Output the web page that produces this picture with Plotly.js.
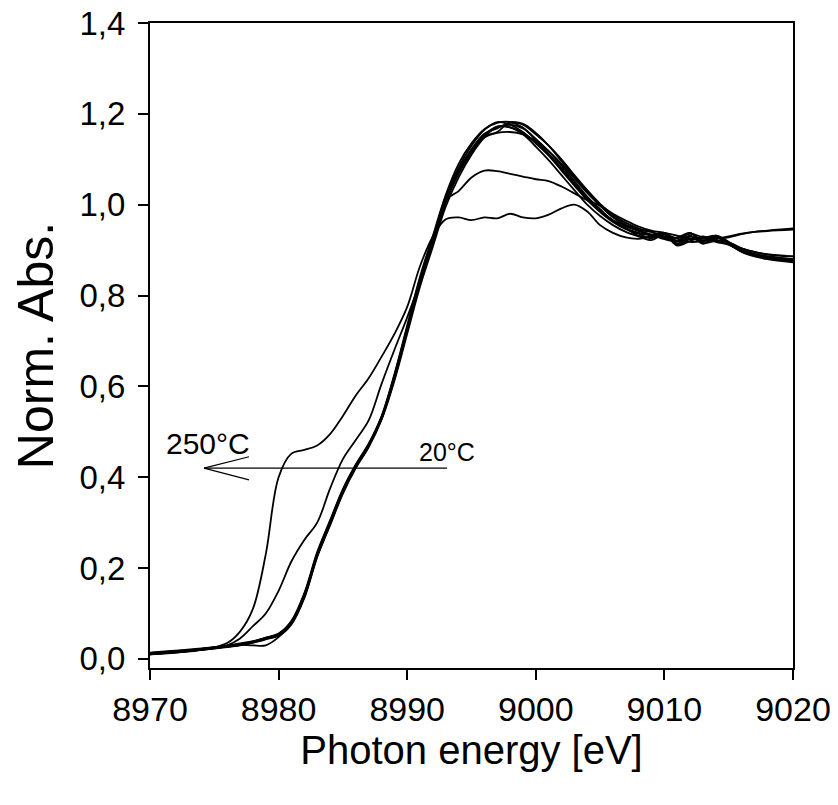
<!DOCTYPE html>
<html>
<head>
<meta charset="utf-8">
<script src="https://cdn.plot.ly/plotly-3.0.1.min.js"></script>
<style>html,body{margin:0;padding:0;background:#fff;}#chart{width:838px;height:805px;}</style>
</head>
<body>
<div id="chart"></div>
<script>
// Photon energy grid (eV)
const energy = [8970,8972,8974,8976,8977,8978,8979,8980,8981,8982,8983,8984,8985,8986,8987,8988,8989,8990,8991,8992,8993,8994,8995,8996,8997,8998,8999,9000,9001,9002,9003,9004,9005,9006,9007,9008,9009,9010,9011,9012,9013,9014,9015,9016,9017,9018,9020];

// 250°C spectrum
const s250 = [0.010,0.014,0.020,0.035,0.060,0.110,0.230,0.400,0.452,0.460,0.470,0.495,0.535,0.580,0.618,0.665,0.715,0.775,0.865,0.930,0.968,0.972,0.966,0.972,0.970,0.980,0.972,0.970,0.978,0.992,1.000,0.985,0.955,0.938,0.928,0.925,0.930,0.935,0.925,0.918,0.920,0.925,0.928,0.935,0.940,0.943,0.948];
// intermediate spectrum
const sMid = [0.012,0.015,0.020,0.030,0.045,0.072,0.100,0.150,0.215,0.262,0.300,0.375,0.440,0.482,0.525,0.605,0.680,0.752,0.830,0.920,1.010,1.030,1.060,1.075,1.074,1.068,1.062,1.056,1.052,1.040,1.025,1.010,0.998,0.980,0.965,0.952,0.943,0.938,0.932,0.925,0.922,0.925,0.930,0.936,0.940,0.942,0.945];
// low-temperature spectra (20°C ...)
const s1 = [0.010,0.015,0.020,0.026,0.030,0.036,0.044,0.052,0.078,0.138,0.228,0.298,0.368,0.424,0.470,0.532,0.624,0.730,0.836,0.926,1.016,1.082,1.130,1.165,1.182,1.176,1.160,1.135,1.108,1.075,1.042,1.010,0.984,0.962,0.946,0.936,0.926,0.936,0.914,0.930,0.920,0.928,0.914,0.898,0.890,0.885,0.878];
const s2 = [0.014,0.018,0.023,0.029,0.033,0.038,0.046,0.055,0.082,0.142,0.232,0.302,0.372,0.426,0.472,0.530,0.618,0.722,0.828,0.918,1.005,1.068,1.115,1.150,1.160,1.182,1.176,1.155,1.130,1.100,1.065,1.032,1.002,0.978,0.960,0.948,0.940,0.930,0.928,0.938,0.920,0.932,0.918,0.904,0.896,0.891,0.886];
const s3 = [0.012,0.016,0.022,0.028,0.032,0.037,0.045,0.054,0.080,0.140,0.230,0.300,0.370,0.425,0.470,0.530,0.620,0.726,0.832,0.922,1.010,1.072,1.118,1.148,1.158,1.160,1.155,1.140,1.118,1.090,1.058,1.026,0.998,0.972,0.954,0.944,0.940,0.926,0.926,0.936,0.928,0.922,0.916,0.904,0.896,0.890,0.886];
const s4 = [0.011,0.016,0.021,0.027,0.031,0.030,0.030,0.048,0.078,0.136,0.226,0.296,0.366,0.422,0.468,0.528,0.616,0.722,0.828,0.920,1.008,1.074,1.120,1.152,1.170,1.176,1.168,1.145,1.118,1.086,1.052,1.018,0.990,0.964,0.948,0.932,0.928,0.938,0.912,0.924,0.926,0.932,0.918,0.900,0.892,0.886,0.880];
const s5 = [0.013,0.017,0.022,0.029,0.034,0.039,0.047,0.056,0.084,0.145,0.235,0.305,0.374,0.428,0.474,0.534,0.626,0.734,0.842,0.932,1.022,1.090,1.135,1.166,1.180,1.182,1.170,1.142,1.112,1.080,1.046,1.012,0.986,0.966,0.952,0.942,0.934,0.924,0.920,0.938,0.916,0.920,0.912,0.898,0.888,0.882,0.876];
const s6 = [0.010,0.014,0.020,0.027,0.031,0.036,0.043,0.051,0.076,0.134,0.224,0.294,0.364,0.420,0.466,0.526,0.612,0.716,0.820,0.908,0.996,1.060,1.110,1.148,1.172,1.170,1.155,1.128,1.098,1.065,1.032,1.000,0.975,0.955,0.940,0.930,0.922,0.934,0.910,0.920,0.930,0.918,0.912,0.896,0.886,0.880,0.873];
const s7 = [0.012,0.016,0.021,0.028,0.032,0.038,0.046,0.054,0.081,0.141,0.231,0.301,0.371,0.426,0.471,0.531,0.621,0.727,0.833,0.923,1.012,1.076,1.122,1.156,1.168,1.180,1.178,1.158,1.130,1.096,1.062,1.028,0.998,0.974,0.956,0.944,0.934,0.938,0.920,0.932,0.914,0.928,0.914,0.900,0.891,0.886,0.880];
const s8 = [0.011,0.015,0.021,0.027,0.031,0.037,0.045,0.053,0.079,0.139,0.229,0.299,0.369,0.423,0.469,0.529,0.619,0.724,0.830,0.920,1.008,1.074,1.120,1.154,1.172,1.170,1.158,1.136,1.110,1.080,1.046,1.014,0.986,0.964,0.948,0.938,0.932,0.928,0.918,0.926,0.926,0.922,0.913,0.897,0.889,0.884,0.877];

const xTicks = [8970,8980,8990,9000,9010,9020];
const xTickText = ["8970","8980","8990","9000","9010","9020"];
const yTicks = [0,0.2,0.4,0.6,0.8,1.0,1.2,1.4];
const yTickText = ["0,0","0,2","0,4","0,6","0,8","1,0","1,2","1,4"];

// arrow annotation (data coordinates)
const arrowTail = [8993.1, 0.420];
const arrowTip = [8974.2, 0.420];
const arrowBarbs = [[8977.7, 0.445],[8977.7, 0.394]];

const series = [s250, sMid, s1, s2, s3, s4, s5, s6, s7, s8];
const traces = series.map(s => ({
  x: energy, y: s, type: 'scatter', mode: 'lines',
  line: {color: '#000', width: 1.8, shape: 'spline', smoothing: 1},
  hoverinfo: 'skip', showlegend: false
}));

const font = "Liberation Sans, Arial, sans-serif";
const shapes = [
  {type:'line', xref:'x', yref:'y', x0: arrowTail[0], y0: arrowTail[1], x1: arrowTip[0], y1: arrowTip[1], line:{color:'#000', width:1.2}},
  {type:'line', xref:'x', yref:'y', x0: arrowTip[0], y0: arrowTip[1], x1: arrowBarbs[0][0], y1: arrowBarbs[0][1], line:{color:'#000', width:1.2}},
  {type:'line', xref:'x', yref:'y', x0: arrowTip[0], y0: arrowTip[1], x1: arrowBarbs[1][0], y1: arrowBarbs[1][1], line:{color:'#000', width:1.2}}
];

const layout = {
  width: 838, height: 805,
  margin: {l: 150, r: 45, t: 23, b: 137, pad: 0},
  paper_bgcolor: '#fff', plot_bgcolor: '#fff',
  font: {family: font, color: '#000'},
  xaxis: {
    range: [8970, 9020], tickvals: xTicks, ticktext: xTickText,
    ticks: 'outside', ticklen: 10, tickwidth: 2, tickcolor: '#000',
    showline: true, linewidth: 2, linecolor: '#000', mirror: true,
    showgrid: false, zeroline: false,
    tickfont: {size: 34, family: font},
    title: {text: 'Photon energy [eV]', font: {size: 40, family: font}, standoff: 8}
  },
  yaxis: {
    range: [-0.02, 1.4], tickvals: yTicks, ticktext: yTickText,
    ticks: 'outside', ticklen: 10, tickwidth: 2, tickcolor: '#000',
    showline: true, linewidth: 2, linecolor: '#000', mirror: true,
    showgrid: false, zeroline: false, ticklabelstandoff: 6,
    tickfont: {size: 33, family: font},
    title: {text: 'Norm. Abs.', font: {size: 50, family: font}, standoff: 10}
  },
  shapes: shapes,
  annotations: [
    {x: 8974.5, y: 0.475, xref: 'x', yref: 'y', text: '250°C', showarrow: false, font: {size: 30, family: font}},
    {x: 8993.1, y: 0.456, xref: 'x', yref: 'y', text: '20°C', showarrow: false, font: {size: 25, family: font}}
  ]
};

Plotly.newPlot('chart', traces, layout, {staticPlot: true, displayModeBar: false});
</script>
</body>
</html>
